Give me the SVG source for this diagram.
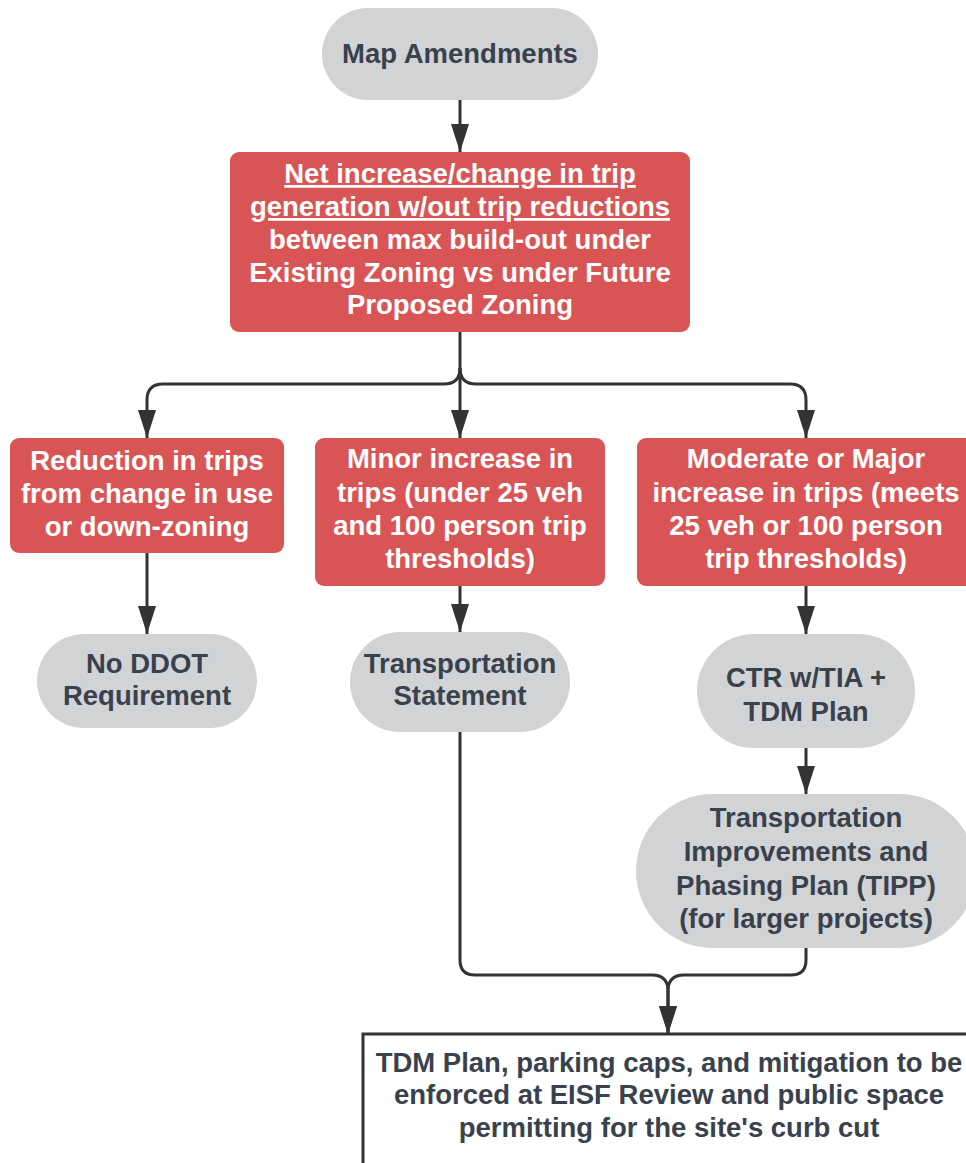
<svg xmlns="http://www.w3.org/2000/svg" width="966" height="1163" viewBox="0 0 966 1163">
  <style>
    .red { fill: #d95555; }
    .pill { fill: #d2d3d5; }
    .box { fill: #ffffff; stroke: #333333; stroke-width: 3; }
    text { font-family: "Liberation Sans", Arial, sans-serif; font-weight: bold; font-size: 27.5px; text-anchor: middle; }
    .wt { fill: #ffffff; }
    .dk { fill: #39414d; }
    .conn { fill: none; stroke: #333333; stroke-width: 3; }
  </style>
  <defs>
    <marker id="arrow" markerUnits="userSpaceOnUse" markerWidth="28" markerHeight="18" refX="28" refY="9" orient="auto">
      <path d="M0,0 L28,9 L0,18 z" fill="#333333"/>
    </marker>
  </defs>

  <rect width="966" height="1163" fill="#ffffff"/>

  <!-- connectors -->
  <g id="connectors">
    <path class="conn" d="M460,100 V152" marker-end="url(#arrow)"/>
    <path class="conn" d="M460,332 V438" marker-end="url(#arrow)"/>
    <path class="conn" d="M460,368 Q460,384 444,384 H163 Q147,384 147,400 V438" marker-end="url(#arrow)"/>
    <path class="conn" d="M460,368 Q460,384 476,384 H790 Q806,384 806,400 V438" marker-end="url(#arrow)"/>
    <path class="conn" d="M147,553 V634" marker-end="url(#arrow)"/>
    <path class="conn" d="M460,586 V632" marker-end="url(#arrow)"/>
    <path class="conn" d="M806,586 V634" marker-end="url(#arrow)"/>
    <path class="conn" d="M806,748 V794" marker-end="url(#arrow)"/>
    <path class="conn" d="M460,732 V960 Q460,975 475,975 H652 Q668,975 668,991 V1034" marker-end="url(#arrow)"/>
    <path class="conn" d="M806,948 V960 Q806,975 791,975 H684 Q668,975 668,991 V1034" marker-end="url(#arrow)"/>
  </g>

  <!-- start -->
  <g id="map-amendments">
    <rect class="pill" x="322" y="8" width="276" height="92" rx="46"/>
    <text class="dk" x="460" y="63">Map Amendments</text>
  </g>

  <g id="net-change">
    <rect class="red" x="230" y="152" width="460" height="180" rx="9"/>
    <text class="wt" x="460" y="183" text-decoration="underline">Net increase/change in trip</text>
    <text class="wt" x="460" y="216" text-decoration="underline">generation w/out trip reductions</text>
    <text class="wt" x="460" y="249">between max build-out under</text>
    <text class="wt" x="460" y="282">Existing Zoning vs under Future</text>
    <text class="wt" x="460" y="314">Proposed Zoning</text>
  </g>

  <!-- outcome branches -->
  <g id="reduction">
    <rect class="red" x="10" y="438" width="274" height="115" rx="9"/>
    <text class="wt" x="147" y="470">Reduction in trips</text>
    <text class="wt" x="147" y="503">from change in use</text>
    <text class="wt" x="147" y="536">or down-zoning</text>
  </g>

  <g id="minor">
    <rect class="red" x="315" y="438" width="290" height="148" rx="9"/>
    <text class="wt" x="460" y="468">Minor increase in</text>
    <text class="wt" x="460" y="502">trips (under 25 veh</text>
    <text class="wt" x="460" y="535">and 100 person trip</text>
    <text class="wt" x="460" y="568">thresholds)</text>
  </g>

  <g id="moderate">
    <rect class="red" x="637" y="438" width="338" height="148" rx="9"/>
    <text class="wt" x="806" y="468">Moderate or Major</text>
    <text class="wt" x="806" y="502">increase in trips (meets</text>
    <text class="wt" x="806" y="535">25 veh or 100 person</text>
    <text class="wt" x="806" y="568">trip thresholds)</text>
  </g>

  <!-- requirements -->
  <g id="no-ddot">
    <rect class="pill" x="37" y="634" width="220" height="94" rx="47"/>
    <text class="dk" x="147" y="673">No DDOT</text>
    <text class="dk" x="147" y="705">Requirement</text>
  </g>

  <g id="statement">
    <rect class="pill" x="350" y="632" width="220" height="100" rx="50"/>
    <text class="dk" x="460" y="673">Transportation</text>
    <text class="dk" x="460" y="705">Statement</text>
  </g>

  <g id="ctr">
    <rect class="pill" x="697" y="634" width="218" height="114" rx="57"/>
    <text class="dk" x="806" y="687">CTR w/TIA +</text>
    <text class="dk" x="806" y="721">TDM Plan</text>
  </g>

  <g id="tipp">
    <rect class="pill" x="636" y="794" width="340" height="154" rx="77"/>
    <text class="dk" x="806" y="827">Transportation</text>
    <text class="dk" x="806" y="861">Improvements and</text>
    <text class="dk" x="806" y="895">Phasing Plan (TIPP)</text>
    <text class="dk" x="806" y="928">(for larger projects)</text>
  </g>

  <g id="enforcement">
    <rect class="box" x="363" y="1034" width="612" height="146"/>
    <text class="dk" x="669" y="1072">TDM Plan, parking caps, and mitigation to be</text>
    <text class="dk" x="669" y="1104">enforced at EISF Review and public space</text>
    <text class="dk" x="669" y="1137">permitting for the site's curb cut</text>
  </g>
</svg>
